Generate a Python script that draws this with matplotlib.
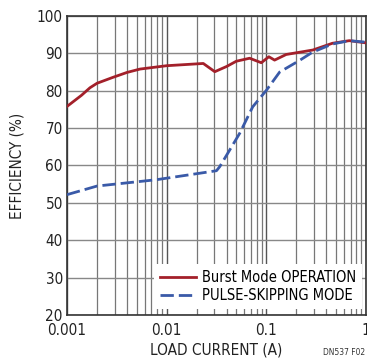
import matplotlib.pyplot as plt
from matplotlib import font_manager
from matplotlib.ticker import LogLocator, NullFormatter, FixedLocator

# pick a condensed face if one is installed
narrow = None
for f in font_manager.fontManager.ttflist:
    if 'Narrow' in f.name or 'Condensed' in f.fname:
        if 'Bold' not in f.fname and 'Oblique' not in f.fname and 'Italic' not in f.fname:
            narrow = f
            break
if narrow is not None:
    plt.rcParams['font.family'] = [narrow.name, 'DejaVu Sans']
    plt.rcParams['font.stretch'] = narrow.stretch

# Burst Mode OPERATION
burst_i = [0.001, 0.0014, 0.0017, 0.002, 0.0029, 0.004, 0.0054, 0.01, 0.0233, 0.0304,
           0.04, 0.05, 0.068, 0.089, 0.106, 0.121, 0.158, 0.293, 0.46, 0.68, 1.0]
burst_eff = [75.8, 78.8, 80.8, 82.0, 83.6, 84.9, 85.8, 86.7, 87.3, 85.1,
             86.5, 87.9, 88.7, 87.5, 89.1, 88.2, 89.7, 90.9, 92.7, 93.4, 92.8]

# PULSE-SKIPPING MODE
pulse_i = [0.001, 0.002, 0.0079, 0.0316, 0.0341, 0.054, 0.073, 0.1, 0.136,
           0.215, 0.29, 0.46, 0.68, 1.0]
pulse_eff = [52.2, 54.5, 56.2, 58.6, 59.7, 68.6, 75.7, 80.1, 85.0,
             88.1, 90.3, 92.5, 93.4, 93.0]

fig = plt.figure(figsize=(3.67, 3.59), dpi=100)
ax = fig.add_axes([67/367, 1-315/359, 299/367, 299/359])

ax.plot(burst_i, burst_eff, color='#a3202a', lw=2.0, label='Burst Mode OPERATION', zorder=3)
ax.plot(pulse_i, pulse_eff, color='#3a5aa8', lw=2.0, dashes=(4.8, 1.8), label='PULSE-SKIPPING MODE', zorder=3)

ax.set_xscale('log')
ax.set_xlim(0.001, 1)
ax.set_ylim(20, 100)
ax.xaxis.set_major_locator(FixedLocator([0.001, 0.01, 0.1, 1]))
ax.set_xticklabels(['0.001', '0.01', '0.1', '1'])
ax.xaxis.set_minor_locator(LogLocator(base=10, subs=range(2, 10)))
ax.xaxis.set_minor_formatter(NullFormatter())
ax.set_yticks(range(20, 101, 10))

ax.grid(which='major', color='#555555', lw=1.0)
ax.grid(which='minor', axis='x', color='#777777', lw=0.9)
ax.grid(which='major', axis='y', color='#888888', lw=1.0)
ax.tick_params(which='both', length=0, labelsize=11, colors='#222222')
ax.tick_params(axis='x', pad=6)
ax.tick_params(axis='y', pad=3)
for s in ax.spines.values():
    s.set_color('#333333')
    s.set_linewidth(1.2)

ax.set_xlabel('LOAD CURRENT (A)', fontsize=11, color='#222222', labelpad=3)
ax.set_ylabel('EFFICIENCY (%)', fontsize=11, color='#222222', labelpad=9)

leg = ax.legend(loc='lower right', bbox_to_anchor=(0.99, 5/299), fontsize=10.5,
                frameon=True, fancybox=False, framealpha=1, edgecolor='white',
                borderpad=0.4, handlelength=2.5, labelspacing=0.2,
                borderaxespad=0.1, handletextpad=0.35)
leg.get_frame().set_linewidth(0)

fig.text(0.995, 0.005, 'DN537 F02', fontsize=6, ha='right', va='bottom', color='#333333')

fig.savefig('out.png', dpi=100)
